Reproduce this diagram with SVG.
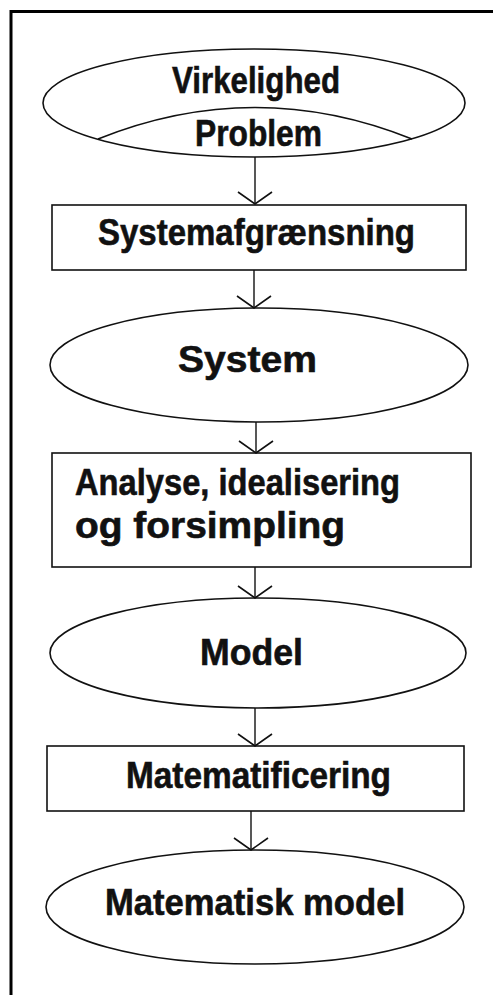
<svg xmlns="http://www.w3.org/2000/svg" width="493" height="995" viewBox="0 0 493 995">
<style>
.shape{fill:none;stroke:#111;stroke-width:1.6}
.lbl{font-family:"Liberation Sans",Arial,sans-serif;font-weight:bold;font-size:36px;fill:#111;stroke:#111;stroke-width:0.6}
.conn{stroke:#111;stroke-width:1.4;fill:none}
</style>
<defs>
<marker id="vee" markerUnits="userSpaceOnUse" markerWidth="40" markerHeight="40" viewBox="-20 -20 40 40" refX="0" refY="0" orient="auto">
<path d="M-12,-17 L0,0 L-12,17" fill="none" stroke="#111" stroke-width="1.6"/>
</marker>
</defs>
<rect width="493" height="995" fill="#fff"/>
<g id="frame">
<line x1="10" y1="11.5" x2="493" y2="11.5" stroke="#000" stroke-width="3"/>
<line x1="11" y1="10" x2="11" y2="995" stroke="#000" stroke-width="3"/>
</g>
<g id="connectors">
<line class="conn" x1="255" y1="157" x2="255" y2="204" marker-end="url(#vee)"/>
<line class="conn" x1="254" y1="270" x2="254" y2="308" marker-end="url(#vee)"/>
<line class="conn" x1="256" y1="422" x2="256" y2="453" marker-end="url(#vee)"/>
<line class="conn" x1="255" y1="567" x2="255" y2="598" marker-end="url(#vee)"/>
<line class="conn" x1="255" y1="708" x2="255" y2="746" marker-end="url(#vee)"/>
<line class="conn" x1="251" y1="811" x2="251" y2="850" marker-end="url(#vee)"/>
</g>
<g id="virkelighed">
<ellipse class="shape" cx="254" cy="103" rx="211" ry="54"/>
<path class="shape" d="M98,139 Q255,76 412,139"/>
<text class="lbl" x="172" y="93" textLength="168" lengthAdjust="spacingAndGlyphs">Virkelighed</text>
<text class="lbl" x="195" y="146" textLength="127" lengthAdjust="spacingAndGlyphs">Problem</text>
</g>
<g id="systemafgraensning">
<rect class="shape" x="52" y="205" width="414" height="65"/>
<text class="lbl" x="98" y="245" textLength="317" lengthAdjust="spacingAndGlyphs">Systemafgrænsning</text>
</g>
<g id="system">
<ellipse class="shape" cx="259" cy="365" rx="209" ry="57"/>
<text class="lbl" x="178" y="372" textLength="139" lengthAdjust="spacingAndGlyphs">System</text>
</g>
<g id="analyse">
<rect class="shape" x="52" y="453" width="419" height="114"/>
<text class="lbl" x="75" y="495" textLength="325" lengthAdjust="spacingAndGlyphs">Analyse, idealisering</text>
<text class="lbl" x="75" y="538" textLength="270" lengthAdjust="spacingAndGlyphs">og forsimpling</text>
</g>
<g id="model">
<ellipse class="shape" cx="258" cy="653" rx="208" ry="55"/>
<text class="lbl" x="200" y="665" textLength="103" lengthAdjust="spacingAndGlyphs">Model</text>
</g>
<g id="matematificering">
<rect class="shape" x="47" y="746" width="417" height="65"/>
<text class="lbl" x="126" y="788" textLength="265" lengthAdjust="spacingAndGlyphs">Matematificering</text>
</g>
<g id="matematisk-model">
<ellipse class="shape" cx="255" cy="907" rx="209" ry="57"/>
<text class="lbl" x="105" y="915" textLength="300" lengthAdjust="spacingAndGlyphs">Matematisk model</text>
</g>
</svg>
